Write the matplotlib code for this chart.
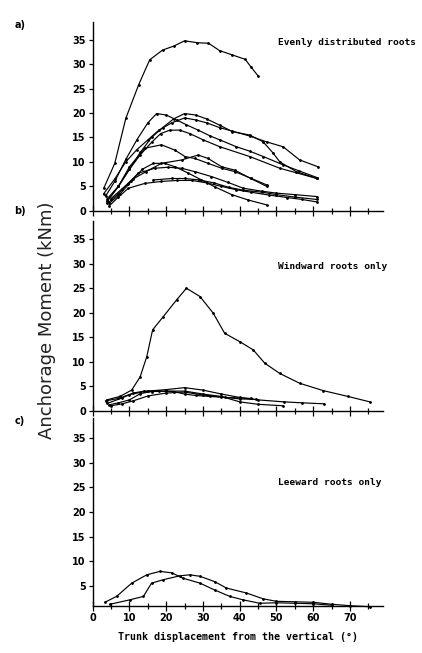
import matplotlib.pyplot as plt

# panel a) evenly distributed roots
a_x = [
    [3, 6, 9, 12.5, 15.5, 19, 22, 25, 28.5, 31.5, 34.5, 38, 41.5, 43, 45],
    [3.5, 6, 9, 12, 15, 17.4, 20, 22.8, 25.5, 28.7, 32, 34.6, 39.1, 42.7, 46.4, 51.8, 56, 61],
    [4, 7, 10, 13, 16, 19, 22, 25, 28, 31, 34.6, 38, 42.7, 46.4, 49.1, 50.9, 55.4, 61],
    [3, 6, 9, 12, 15, 18, 21.5, 25, 28, 31, 34.6, 38, 42.7, 47.3, 51.8, 56.3, 61.3],
    [4, 7, 10, 13, 16, 18.5, 21, 23.7, 26.4, 30.1, 34.6, 42.7, 50.9, 61],
    [4, 7, 10, 14.2, 18.7, 22.4, 25.1, 27.8, 31.4, 35.1, 38.7, 43.2, 47.3],
    [5, 8, 11, 14.5, 18.7, 24.2, 28.7, 31.4, 35.1, 38.7, 43, 47.3],
    [4.5, 7.5, 10.5, 13.5, 16.5, 19.6, 22.4, 26, 29.6, 33.2, 37.8, 42.3, 47.3],
    [4, 7, 9.5, 12.4, 16.9, 20.5, 24.2, 27.8, 32.3, 36.8, 41, 46, 50, 55, 61],
    [16.5, 21.5, 25.1, 29, 33, 37, 41, 46, 50, 55, 61],
    [4.5, 7, 9.7, 14.2, 18.7, 23, 27, 31, 35, 39, 43, 48, 53, 57, 61],
]
a_y = [
    [4.6, 9.7, 18.9, 25.8, 30.9, 32.9, 33.7, 34.8, 34.4, 34.3, 32.8, 31.9, 31.0, 29.5, 27.6],
    [3.0, 6.0, 10.5, 14.5, 18.0, 19.9, 19.6, 18.6, 17.6, 16.5, 15.3, 14.5, 13.1, 12.2, 11.1, 9.4, 8.2, 6.8],
    [2.5, 5.0, 8.5, 12.0, 15.0, 17.0, 18.8, 19.9, 19.6, 18.8, 17.5, 16.2, 15.5, 14.1, 11.8, 10.0, 8.0, 6.6],
    [3.5, 6.5, 10.0, 12.5, 14.5, 16.5, 18.0, 19.0, 18.6, 18.0, 17.0, 16.3, 15.3, 14.1, 13.1, 10.4, 9.0],
    [2.0, 5.0, 8.5, 11.5, 14.0, 15.8, 16.5, 16.5, 15.8, 14.5, 13.1, 11.1, 8.7, 6.6],
    [2.0, 5.0, 9.0, 12.8, 13.5, 12.4, 11.1, 10.7, 9.7, 8.7, 8.0, 6.6, 5.3],
    [2.5, 4.5, 6.5, 8.0, 9.7, 10.4, 11.4, 10.7, 9.0, 8.3, 6.6, 5.0],
    [1.5, 3.5, 6.0, 8.5, 9.7, 9.7, 9.0, 7.7, 6.3, 4.9, 3.3, 2.2, 1.2],
    [1.5, 3.5, 5.5, 7.7, 8.7, 8.9, 8.7, 8.0, 7.0, 5.8, 4.6, 4.0, 3.6, 3.3, 2.9],
    [6.3, 6.6, 6.6, 6.3, 5.7, 4.8, 4.2, 3.8, 3.3, 2.8, 2.3],
    [1.0, 2.8, 4.6, 5.6, 6.0, 6.2, 6.2, 5.7, 5.0, 4.3, 3.8, 3.2, 2.7, 2.3, 1.8],
]

# panel b) windward roots only
b_x = [
    [3.8, 7.4, 10.6, 12.9, 14.7, 16.3, 19.2, 22.8, 25.5, 29.2, 32.8, 35.9, 40, 43.7, 46.8, 50.9, 56.3, 62.7, 69.5, 75.4],
    [3.5, 7, 10, 15, 20, 25, 30, 35, 40, 45, 52, 57, 63],
    [4.5, 7, 10, 13, 16, 20, 25, 30, 35, 40, 45, 51.8],
    [5, 8, 11, 15, 20, 25, 30, 35, 40, 44.5],
    [4, 8, 11, 14, 18, 22, 25, 28, 32, 36, 40, 43],
]
b_y = [
    [2.2, 2.9, 4.2, 6.9, 11.0, 16.5, 19.2, 22.6, 25.0, 23.3, 19.9, 15.8, 14.1, 12.4, 9.7, 7.6, 5.6, 4.1, 2.9, 1.8],
    [2.0, 2.5, 3.3, 4.0, 4.3, 4.7, 4.2, 3.4, 2.7, 2.2, 1.8, 1.6, 1.4],
    [1.2, 1.6, 2.2, 3.5, 3.9, 4.0, 4.0, 3.4, 2.9, 1.8, 1.3, 1.0],
    [1.0, 1.4, 2.0, 3.0, 3.6, 3.8, 3.2, 2.8, 2.4, 2.3],
    [1.5, 2.6, 3.6, 4.0, 4.0, 3.9, 3.4, 3.1, 2.9, 2.7, 2.6, 2.5],
]

# panel c) leeward roots only
c_x = [
    [3.3, 6.5, 10.6, 14.7, 18.3, 21.5, 24.6, 29.2, 33.2, 37.3, 40.9, 45.5, 50, 55, 60, 65],
    [4.7, 10.1, 13.8, 16, 19.2, 23.7, 26.4, 29.2, 33.2, 36.4, 41.8, 46.4, 50, 55, 60, 65, 70, 75.4],
]
c_y = [
    [1.6, 2.8, 5.5, 7.2, 7.9, 7.6, 6.5, 5.5, 4.1, 2.8, 2.1, 1.4, 1.5, 1.4, 1.3, 1.0],
    [1.2, 2.1, 2.8, 5.5, 6.2, 7.0, 7.2, 6.9, 5.8, 4.5, 3.5, 2.3, 1.8, 1.7, 1.6, 1.2, 0.9, 0.7],
]

panel_text = ["Evenly distributed roots", "Windward roots only", "Leeward roots only"]
panel_text_y = [34.4, 29.4, 26.0]
panel_tag = ["a)", "b)", "c)"]
yticks = [0, 5, 10, 15, 20, 25, 30, 35]
xticks = [0, 10, 20, 30, 40, 50, 60, 70]

fig = plt.figure(figsize=(4.22, 6.53), dpi=100)
boxes = [
    [0.2197, 0.6773, 0.688, 0.2894],
    [0.2197, 0.3711, 0.688, 0.2910],
    [0.2197, 0.0724, 0.688, 0.2870],
]
ylims = [(0, 38.7), (0, 38.8), (0.9, 39.1)]
tag_y = [0.962, 0.677, 0.355]

mono = "DejaVu Sans Mono"
for i, (xs, ys) in enumerate([(a_x, a_y), (b_x, b_y), (c_x, c_y)]):
    ax = fig.add_axes(boxes[i])
    for x, y in zip(xs, ys):
        ax.plot(x, y, color="black", lw=0.85, marker="o", ms=1.0,
                clip_on=False)
    ax.set_xlim(0, 79)
    ax.set_ylim(*ylims[i])
    for s in ["top", "right"]:
        ax.spines[s].set_visible(False)
    ax.spines["left"].set_linewidth(1.0)
    ax.spines["bottom"].set_linewidth(1.0)
    ax.set_yticks([t for t in yticks if t >= ylims[i][0]])
    ax.set_xticks(xticks)
    ax.set_xticks(range(5, 80, 10), minor=True)
    ax.tick_params(axis="y", direction="out", length=3, width=0.9,
                   labelsize=7, pad=2)
    ax.tick_params(axis="x", which="major", direction="inout", length=7,
                   width=0.9, labelsize=7, pad=2)
    ax.tick_params(axis="x", which="minor", direction="inout", length=4,
                   width=0.9)
    for lab in ax.get_yticklabels() + ax.get_xticklabels():
        lab.set_fontweight("bold")
    if i < 2:
        ax.set_xticklabels([])
    else:
        ax.set_xlabel("Trunk displacement from the vertical (°)",
                      family=mono, fontsize=7.2, fontweight="bold", labelpad=6)
    ax.text(50.4, panel_text_y[i], panel_text[i], family=mono, fontsize=6.8,
            fontweight="bold", ha="left", va="center")
    fig.text(0.047, tag_y[i], panel_tag[i], fontsize=7, fontweight="bold",
             ha="center", va="center")

fig.text(0.112, 0.51, "Anchorage Moment (kNm)", rotation=90, fontsize=13,
         ha="center", va="center", color="#222222")

plt.savefig("out.png", dpi=100)
